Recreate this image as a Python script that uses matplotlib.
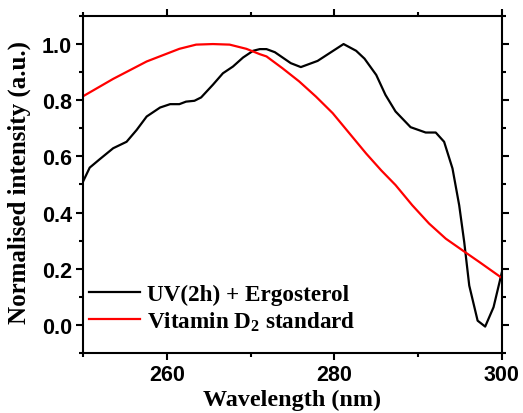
import numpy as np
import matplotlib
matplotlib.use("Agg")
import matplotlib.pyplot as plt
from matplotlib.ticker import MultipleLocator

# UV(2h) + Ergosterol spectrum
wl_uv = [250.0, 250.8, 252.0, 253.6, 255.2, 256.4, 257.6, 259.2, 260.4, 261.5,
         262.3, 263.3, 264.1, 265.5, 266.7, 267.9, 269.1, 270.3, 271.1, 271.9,
         272.9, 274.8, 276.0, 278.0, 279.6, 281.1, 282.6, 283.6, 285.0, 286.1,
         287.3, 289.1, 290.9, 292.1, 293.1, 294.1, 294.9, 295.5, 296.1, 297.1,
         298.0, 299.0, 300.0]
int_uv = [0.51, 0.56, 0.59, 0.629, 0.652, 0.694, 0.742, 0.774, 0.786, 0.786,
          0.795, 0.798, 0.81, 0.855, 0.896, 0.92, 0.952, 0.976, 0.982, 0.982,
          0.971, 0.932, 0.918, 0.94, 0.971, 1.0, 0.976, 0.948, 0.89, 0.819,
          0.76, 0.704, 0.685, 0.685, 0.652, 0.557, 0.426, 0.295, 0.14, 0.015,
          -0.006, 0.063, 0.188]

# Vitamin D2 standard spectrum
wl_d2 = [250.0, 253.6, 257.6, 261.5, 263.5, 265.5, 267.5, 269.5, 271.1,
         271.9, 273.8, 275.8, 277.8, 279.8, 281.8, 283.8, 285.6, 287.3,
         289.3, 291.3, 293.3, 295.7, 297.3, 300.0]
int_d2 = [0.814, 0.876, 0.938, 0.983, 0.998, 1.0, 0.998, 0.983, 0.964,
          0.956, 0.914, 0.867, 0.813, 0.754, 0.682, 0.61, 0.55, 0.498,
          0.426, 0.361, 0.307, 0.257, 0.224, 0.167]

plt.rcParams['mathtext.fontset'] = 'custom'
plt.rcParams['mathtext.rm'] = 'Liberation Serif:bold'
plt.rcParams['mathtext.it'] = 'Liberation Serif:bold'

fig = plt.figure(figsize=(5.23, 4.14), dpi=100)
ax = fig.add_axes([0.1587, 0.145, 0.801, 0.814])

ax.plot(wl_uv, int_uv, color='black', lw=1.6, label='UV(2h) + Ergosterol')
ax.plot(wl_d2, int_d2, color='red', lw=1.6, label=r'Vitamin D$_\mathrm{2}$ standard')

ax.set_xlim(250, 300)
ax.set_ylim(-0.1, 1.1)
ax.xaxis.set_minor_locator(MultipleLocator(10))
ax.yaxis.set_minor_locator(MultipleLocator(0.1))
ax.set_xticks([260, 280, 300])
ax.set_yticks([0.0, 0.2, 0.4, 0.6, 0.8, 1.0])

for s in ax.spines.values():
    s.set_linewidth(1.5)
ax.tick_params(which='both', direction='out', width=1.5, top=True, right=True)
ax.tick_params(which='major', length=5, pad=3)
ax.tick_params(which='minor', length=3)
for lab in ax.get_xticklabels() + ax.get_yticklabels():
    lab.set_fontfamily('Liberation Sans')
    lab.set_fontweight('bold')
    lab.set_fontsize(15.5)

ax.set_xlabel('Wavelength (nm)', fontfamily='Liberation Serif', fontweight='bold', fontsize=17.4)
ax.set_ylabel('Normalised intensity (a.u.)', fontfamily='Liberation Serif', fontweight='bold', fontsize=18)
ax.xaxis.set_label_coords(0.5, -0.105)
ax.yaxis.set_label_coords(-0.124, 0.51)

ax.legend(loc='lower left', bbox_to_anchor=(0.014, 0.06), frameon=False,
          handlelength=2.2, handletextpad=0.3, borderpad=0, borderaxespad=0,
          labelspacing=0.2,
          prop={'family': 'Liberation Serif', 'weight': 'bold', 'size': 16.7})

fig.savefig('out.png', dpi=100)
